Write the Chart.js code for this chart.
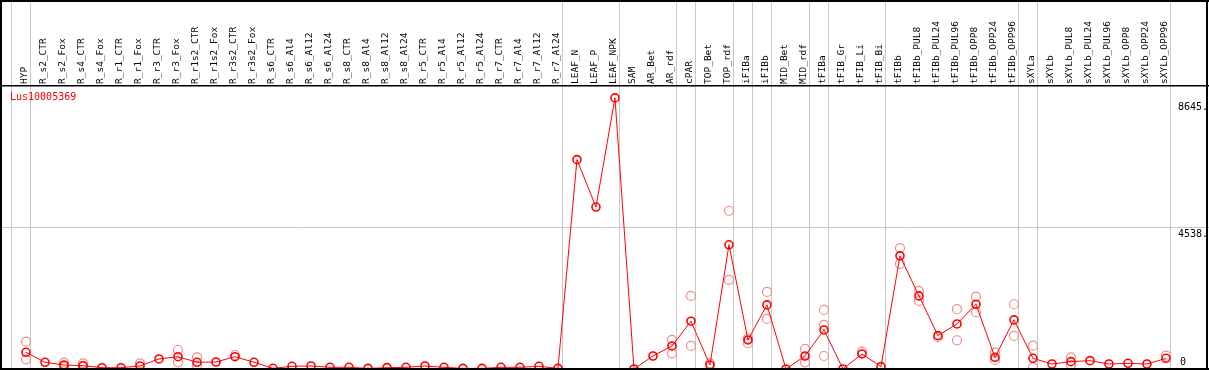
<!DOCTYPE html>
<html><head><meta charset="utf-8">
<script src="https://cdn.jsdelivr.net/npm/chart.js@4.4.1/dist/chart.umd.min.js"></script>
<style>html,body{margin:0;padding:0;background:#fff;overflow:hidden}#wrap{width:1209px;height:370px;position:relative}</style>
</head><body><div id="wrap"><canvas id="c" width="1209" height="370"></canvas></div>
<script>
const categories = ['HYP','R_s2_CTR','R_s2_Fox','R_s4_CTR','R_s4_Fox','R_r1_CTR','R_r1_Fox','R_r3_CTR','R_r3_Fox','R_r1s2_CTR','R_r1s2_Fox','R_r3s2_CTR','R_r3s2_Fox','R_s6_CTR','R_s6_Al4','R_s6_Al12','R_s6_Al24','R_s8_CTR','R_s8_Al4','R_s8_Al12','R_s8_Al24','R_r5_CTR','R_r5_Al4','R_r5_Al12','R_r5_Al24','R_r7_CTR','R_r7_Al4','R_r7_Al12','R_r7_Al24','LEAF_N','LEAF_P','LEAF_NPK','SAM','AR_Bet','AR_rdf','cPAR','TOP_Bet','TOP_rdf','iFIBa','iFIBb','MID_Bet','MID_rdf','tFIBa','tFIB_Gr','tFIB_Li','tFIB_Bi','tFIBb','tFIBb_PUL8','tFIBb_PUL24','tFIBb_PUL96','tFIBb_OPP8','tFIBb_OPP24','tFIBb_OPP96','sXYLa','sXYLb','sXYLb_PUL8','sXYLb_PUL24','sXYLb_PUL96','sXYLb_OPP8','sXYLb_OPP24','sXYLb_OPP96'];
const meanValues = [537,216,129,106,42,42,97,322,396,216,225,396,216,22,87,97,54,54,20,43,54,97,54,20,20,54,54,86,20,6726,5204,8711,0,418,740,1535,129,3990,933,2060,0,418,1255,0,483,75,3636,2349,1073,1448,2081,375,1577,343,161,236,268,161,183,161,343];
const replicateA = [878,null,203,183,null,null,183,null,611,376,null,450,null,null,null,null,null,null,null,null,null,null,null,null,null,null,null,null,null,null,null,null,null,null,933,2349,183,5084,988,2478,null,644,1899,null,557,null,3884,2510,1020,1921,2327,525,2081,751,null,376,null,null,null,null,429];
const replicateB = [312,null,74,74,null,null,null,null,216,106,null,null,null,null,null,null,null,null,null,null,null,null,null,null,null,null,null,null,null,null,null,null,null,null,505,740,null,2864,827,1609,null,215,418,null,null,null,3379,2188,null,923,1825,290,1062,55,null,129,null,null,null,null,null];
const replicateC = [null,null,null,null,null,null,null,null,null,null,null,null,null,null,null,null,null,null,null,null,null,null,null,null,null,null,null,null,null,null,null,null,null,null,null,null,null,null,null,null,null,null,1416,null,null,null,null,null,null,null,null,null,null,null,null,null,null,null,null,null,null];
const yTickValues = [0, 4538, 8645];
const yTickLabels = ['0', '4538.', '8645.'];
const groupEnds = [0,1,29,32,35,36,38,39,40,42,43,46,53,54,61];
const seriesName = 'Lus10005369';

const toPts = arr => arr.map((v,i) => ({x: i+1, y: v}));
const monoFont = 'DejaVu Sans Mono';

const decor = {
  id: 'decor',
  beforeDatasetsDraw(chart) {
    const ctx = chart.ctx, xs = chart.scales.x;
    ctx.save();
    ctx.strokeStyle = '#c8c8c8';
    ctx.lineWidth = 1;
    groupEnds.forEach(g => {
      const px = Math.round(xs.getPixelForValue(g + 0.22)) + 0.5;
      ctx.beginPath(); ctx.moveTo(px, 0); ctx.lineTo(px, chart.height); ctx.stroke();
    });
    ctx.restore();
  },
  afterDraw(chart) {
    const ctx = chart.ctx, ys = chart.scales.y, W = chart.width, H = chart.height;
    ctx.save();
    ctx.fillStyle = '#000';
    ctx.fillRect(0, 0, 2, H);
    ctx.fillRect(0, 0, W, 2);
    ctx.fillRect(W - 3, 0, 2, H);
    ctx.fillRect(0, H - 2, W, 2);
    ctx.fillRect(0, chart.chartArea.top, W, 1.5);
    ctx.font = '10px "' + monoFont + '"';
    ctx.fillStyle = '#ff0000';
    ctx.textBaseline = 'middle';
    ctx.textAlign = 'left';
    ctx.fillText(seriesName, 10, chart.chartArea.top + 12);
    ctx.fillStyle = '#000';
    yTickValues.forEach((v, i) => {
      const py = ys.getPixelForValue(v);
      if (v === 0) { ctx.textBaseline = 'bottom'; ctx.fillText(yTickLabels[i], 1180, py - 2); }
      else { ctx.textBaseline = 'top'; ctx.fillText(yTickLabels[i], 1178, py + 2); }
    });
    ctx.restore();
  }
};

new Chart(document.getElementById('c'), {
  type: 'line',
  data: {
    datasets: [
      { label: seriesName, data: toPts(meanValues), borderColor: '#ff0000', borderWidth: 1, pointRadius: 4, pointBorderWidth: 1.6, pointBorderColor: '#ff0000', pointBackgroundColor: 'rgba(0,0,0,0)', fill: false, tension: 0 },
      { label: 'rA', data: toPts(replicateA), showLine: false, pointRadius: 4.5, pointBorderWidth: 1.2, pointBorderColor: '#f08c8c', pointBackgroundColor: 'rgba(0,0,0,0)' },
      { label: 'rB', data: toPts(replicateB), showLine: false, pointRadius: 4.5, pointBorderWidth: 1.2, pointBorderColor: '#f08c8c', pointBackgroundColor: 'rgba(0,0,0,0)' },
      { label: 'rC', data: toPts(replicateC), showLine: false, pointRadius: 4.5, pointBorderWidth: 1.2, pointBorderColor: '#f08c8c', pointBackgroundColor: 'rgba(0,0,0,0)' }
    ]
  },
  options: {
    responsive: false, animation: false, devicePixelRatio: 1,
    layout: { autoPadding: false, padding: { left: 0, right: 0, top: 0, bottom: 1 } },
    plugins: { legend: { display: false }, tooltip: { enabled: false } },
    scales: {
      x: {
        type: 'linear', position: 'top', min: -0.368, max: 63.265,
        afterBuildTicks: s => { s.ticks = categories.map((_, i) => ({ value: i + 1 })); },
        afterFit: s => { s.height = 85; s.paddingLeft = 0; s.paddingRight = 0; },
        ticks: { autoSkip: false, minRotation: 90, maxRotation: 90, padding: -7, labelOffset: 10, color: '#000',
          font: { family: monoFont, size: 9.5 },
          callback: v => categories[v - 1] ?? '' },
        grid: { display: false }, border: { display: false }
      },
      y: {
        position: 'right', min: 0, max: 9125,
        afterBuildTicks: s => { s.ticks = yTickValues.map(v => ({ value: v })); },
        afterFit: s => { s.width = 0; },
        ticks: { display: false },
        grid: { drawTicks: false, lineWidth: 1, color: c => (c.tick && c.tick.value === yTickValues[1]) ? '#c8c8c8' : 'rgba(0,0,0,0)' },
        border: { display: false }
      }
    }
  },
  plugins: [decor]
});
</script></body></html>
